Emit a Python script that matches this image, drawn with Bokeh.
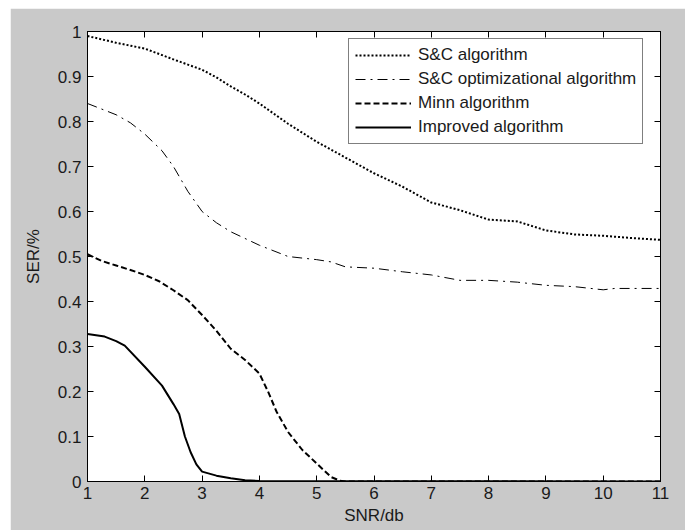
from bokeh.plotting import figure
from bokeh.models import Range1d, FixedTicker, LinearAxis, Legend, LegendItem, Spacer
from bokeh.layouts import row, column
from bokeh.embed import file_html
from bokeh.resources import INLINE

# ---- data ----
sc_x = [1, 1.5, 2, 2.5, 3, 3.25, 3.5, 3.75, 4, 4.5, 5, 5.5, 6, 6.5, 7, 7.5, 8, 8.5, 9, 9.5, 10, 10.5, 11]
sc_y = [0.99, 0.975, 0.962, 0.938, 0.915, 0.898, 0.878, 0.86, 0.84, 0.795, 0.755, 0.72, 0.685, 0.655,
        0.62, 0.603, 0.582, 0.578, 0.558, 0.549, 0.546, 0.541, 0.537]

sco_x = [1, 1.5, 1.75, 2, 2.3, 2.5, 2.75, 3, 3.25, 3.5, 4, 4.5, 5, 5.25, 5.5, 6, 6.5, 7, 7.5, 8,
         8.5, 9, 9.5, 10, 10.2, 11]
sco_y = [0.84, 0.815, 0.797, 0.772, 0.735, 0.70, 0.645, 0.600, 0.575, 0.555, 0.525, 0.500, 0.493,
         0.488, 0.477, 0.474, 0.466, 0.459, 0.447, 0.447, 0.443, 0.436, 0.433, 0.426, 0.429, 0.429]

minn_x = [1, 1.25, 1.5, 1.75, 2, 2.25, 2.5, 2.75, 3, 3.25, 3.5, 3.75, 4, 4.15, 4.3, 4.5, 4.75, 5,
          5.25, 5.4, 5.5, 6, 11]
minn_y = [0.505, 0.49, 0.48, 0.47, 0.459, 0.445, 0.425, 0.403, 0.37, 0.335, 0.295, 0.27, 0.24, 0.2,
          0.155, 0.11, 0.07, 0.04, 0.01, 0.002, 0.0, 0.0, 0.0]

imp_x = [1, 1.3, 1.5, 1.65, 2, 2.3, 2.5, 2.6, 2.7, 2.8, 2.9, 3.0, 3.25, 3.5, 3.75, 4, 11]
imp_y = [0.328, 0.322, 0.312, 0.302, 0.255, 0.213, 0.172, 0.15, 0.10, 0.065, 0.038, 0.022, 0.013,
         0.007, 0.003, 0.001, 0.0]

x_ticks = [1, 2, 3, 4, 5, 6, 7, 8, 9, 10, 11]
y_ticks = [0, 0.1, 0.2, 0.3, 0.4, 0.5, 0.6, 0.7, 0.8, 0.9, 1]
y_tick_labels = ["0", "0.1", "0.2", "0.3", "0.4", "0.5", "0.6", "0.7", "0.8", "0.9", "1"]

series_names = ["S&C algorithm", "S&C optimizational algorithm", "Minn algorithm", "Improved algorithm"]

FONT = "Liberation Sans"
FS = "17px"
GRAY = "#c9c9c9"
TXT = "#1a1a1a"

p = figure(width=675, height=522, output_backend="svg", toolbar_location=None,
           x_range=Range1d(1, 11), y_range=Range1d(0, 1),
           min_border_left=77, min_border_right=25, min_border_top=23, min_border_bottom=49)
p.border_fill_color = GRAY
p.background_fill_color = "white"
p.outline_line_color = "black"
p.outline_line_width = 1
p.grid.visible = False

r1 = p.line(sc_x, sc_y, line_color="black", line_width=2, line_dash="2 2")
r2 = p.line(sco_x, sco_y, line_color="black", line_width=1, line_dash="10 5 2 5")
r3 = p.line(minn_x, minn_y, line_color="black", line_width=2, line_dash="6 3")
r4 = p.line(imp_x, imp_y, line_color="black", line_width=2)


def style(ax):
    ax.major_tick_in = 6
    ax.major_tick_out = 0
    ax.minor_tick_in = 0
    ax.minor_tick_out = 0
    ax.axis_line_color = "black"
    ax.major_tick_line_color = "black"
    ax.major_label_text_font = FONT
    ax.major_label_text_font_size = FS
    ax.major_label_text_color = TXT
    ax.axis_label_text_font = FONT
    ax.axis_label_text_font_size = FS
    ax.axis_label_text_font_style = "normal"
    ax.axis_label_text_color = TXT


p.xaxis.ticker = FixedTicker(ticks=x_ticks)
p.yaxis.ticker = FixedTicker(ticks=y_ticks)
p.yaxis.major_label_overrides = {t: l for t, l in zip(y_ticks, y_tick_labels)}
p.xaxis.axis_label = "SNR/db"
p.yaxis.axis_label = "SER/%"
style(p.xaxis[0])
style(p.yaxis[0])
p.xaxis.major_label_standoff = 5
p.xaxis.axis_label_standoff = 4
p.yaxis.major_label_standoff = 6
p.yaxis.axis_label_standoff = 12

top = LinearAxis(ticker=FixedTicker(ticks=x_ticks),
                 major_label_overrides={t: "" for t in x_ticks})
right = LinearAxis(ticker=FixedTicker(ticks=y_ticks),
                   major_label_overrides={t: "" for t in y_ticks})
style(top)
style(right)
top.major_label_standoff = 0
right.major_label_standoff = 0
p.add_layout(top, "above")
p.add_layout(right, "right")

legend = Legend(items=[LegendItem(label=n, renderers=[r]) for n, r in zip(series_names, [r1, r2, r3, r4])],
                location=(261, 337), margin=0, padding=6, spacing=4,
                glyph_width=56, glyph_height=20, label_height=20, label_standoff=7,
                label_text_font=FONT, label_text_font_size=FS, label_text_color=TXT,
                border_line_color="black", border_line_width=1, background_fill_color="white",
                background_fill_alpha=1)
p.add_layout(legend, "center")

page = row(Spacer(width=10, height=530), column(Spacer(width=675, height=8), p))

open("out.html", "w").write(file_html(page, INLINE))
